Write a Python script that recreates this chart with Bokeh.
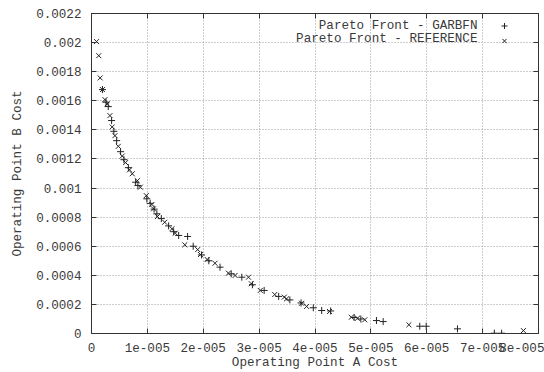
from bokeh.plotting import figure
from bokeh.models import (Range1d, FixedTicker, CustomJSTickFormatter, LinearAxis,
                          Legend, LegendItem, Label)
from bokeh.embed import file_html
from bokeh.resources import INLINE

FONT = "Liberation Mono"
TEXT = "#3a3a3a"
FS = "12.6px"

# ---- data (Operating Point A cost, Operating Point B cost) ----
garbfn_a = [0.196e-5, 0.26e-5, 0.30e-5, 0.36e-5, 0.40e-5, 0.45e-5, 0.52e-5, 0.58e-5,
            0.66e-5, 0.79e-5, 0.83e-5, 0.99e-5, 1.05e-5, 1.12e-5, 1.17e-5, 1.25e-5,
            1.38e-5, 1.47e-5, 1.56e-5, 1.72e-5, 1.82e-5, 1.97e-5, 2.10e-5, 2.30e-5,
            2.50e-5, 2.69e-5, 2.88e-5, 3.09e-5, 3.35e-5, 3.55e-5, 3.75e-5, 3.97e-5,
            4.12e-5, 4.28e-5, 4.70e-5, 4.82e-5, 5.10e-5, 5.22e-5, 5.875e-5, 5.99e-5,
            6.55e-5, 7.21e-5, 7.34e-5]
garbfn_b = [16.77e-4, 15.9e-4, 15.6e-4, 14.64e-4, 13.9e-4, 13.26e-4, 12.5e-4, 11.95e-4,
            11.4e-4, 10.4e-4, 10.17e-4, 9.26e-4, 8.95e-4, 8.55e-4, 8.23e-4, 7.9e-4,
            7.4e-4, 7.0e-4, 6.74e-4, 6.67e-4, 6.0e-4, 5.4e-4, 5.0e-4, 4.56e-4,
            4.1e-4, 3.87e-4, 3.35e-4, 2.96e-4, 2.55e-4, 2.31e-4, 2.1e-4, 1.77e-4,
            1.58e-4, 1.55e-4, 1.1e-4, 1.0e-4, 0.89e-4, 0.82e-4, 0.5e-4, 0.5e-4,
            0.32e-4, 0.02e-4, 0.02e-4]

ref_a = [0.09e-5, 0.13e-5, 0.155e-5, 0.196e-5, 0.24e-5, 0.28e-5, 0.33e-5, 0.37e-5,
         0.42e-5, 0.48e-5, 0.55e-5, 0.61e-5, 0.68e-5, 0.73e-5, 0.82e-5, 0.875e-5,
         0.98e-5, 1.08e-5, 1.11e-5, 1.18e-5, 1.31e-5, 1.44e-5, 1.50e-5, 1.67e-5,
         1.90e-5, 1.95e-5, 2.07e-5, 2.21e-5, 2.45e-5, 2.57e-5, 2.81e-5, 2.86e-5,
         3.02e-5, 3.28e-5, 3.45e-5, 3.49e-5, 3.76e-5, 3.85e-5, 4.26e-5, 4.65e-5,
         4.76e-5, 4.89e-5, 5.68e-5, 7.73e-5]
ref_b = [20.07e-4, 19.1e-4, 17.57e-4, 16.77e-4, 16.08e-4, 15.79e-4, 14.98e-4, 14.2e-4,
         13.6e-4, 12.87e-4, 12.2e-4, 11.75e-4, 11.25e-4, 10.98e-4, 10.5e-4, 10.06e-4,
         9.48e-4, 8.87e-4, 8.57e-4, 8.04e-4, 7.65e-4, 7.2e-4, 6.9e-4, 6.1e-4,
         5.77e-4, 5.43e-4, 5.09e-4, 4.83e-4, 4.15e-4, 3.99e-4, 3.87e-4, 3.42e-4,
         2.96e-4, 2.68e-4, 2.5e-4, 2.38e-4, 2.08e-4, 1.86e-4, 1.51e-4, 1.12e-4,
         1.05e-4, 0.94e-4, 0.6e-4, 0.2e-4]

series_names = ["Pareto Front - GARBFN", "Pareto Front - REFERENCE"]

x_ticks = [0, 1e-5, 2e-5, 3e-5, 4e-5, 5e-5, 6e-5, 7e-5, 8e-5]
x_tick_labels = ["0", "1e-005", "2e-005", "3e-005", "4e-005", "5e-005", "6e-005",
                 "7e-005", "8e-005"]
y_ticks = [0, 0.0002, 0.0004, 0.0006, 0.0008, 0.001, 0.0012, 0.0014, 0.0016,
           0.0018, 0.002, 0.0022]
y_tick_labels = ["0", "0.0002", "0.0004", "0.0006", "0.0008", "0.001", "0.0012",
                 "0.0014", "0.0016", "0.0018", "0.002", "0.0022"]

FMT = """
let best = 0; let bd = Infinity;
for (let i = 0; i < tv.length; i++) { const d = Math.abs(tv[i] - tick); if (d < bd) { bd = d; best = i; } }
return labels[best];
"""

p = figure(width=544, height=372, output_backend="svg", toolbar_location=None,
           x_range=Range1d(0, 8e-5), y_range=Range1d(0, 0.0022),
           min_border_left=91, min_border_right=6, min_border_top=13, min_border_bottom=39,
           x_axis_label="Operating Point A Cost", y_axis_label="Operating Point B Cost")
p.background_fill_color = "white"
p.border_fill_color = "white"
p.outline_line_color = "#333333"
p.outline_line_width = 1

for ax, ticks, labels in ((p.xaxis[0], x_ticks, x_tick_labels), (p.yaxis[0], y_ticks, y_tick_labels)):
    ax.ticker = FixedTicker(ticks=ticks)
    ax.formatter = CustomJSTickFormatter(args=dict(tv=ticks, labels=labels), code=FMT)
    ax.major_tick_in = 5
    ax.major_tick_out = 0
    ax.minor_tick_line_color = None
    ax.axis_line_color = "#333333"
    ax.major_tick_line_color = "#333333"
    ax.major_label_text_font = FONT
    ax.major_label_text_font_size = FS
    ax.major_label_text_color = TEXT
    ax.axis_label_text_font = FONT
    ax.axis_label_text_font_size = FS
    ax.axis_label_text_font_style = "normal"
    ax.axis_label_text_color = TEXT

p.xaxis[0].major_label_standoff = 9
p.xaxis[0].axis_label_standoff = 1
p.yaxis[0].major_label_standoff = 10
p.yaxis[0].axis_label_standoff = 8

# mirrored ticks (top / right)
for loc, ticks in (("above", x_ticks), ("right", y_ticks)):
    p.add_layout(LinearAxis(ticker=FixedTicker(ticks=ticks),
                            formatter=CustomJSTickFormatter(code="return '';"),
                            major_tick_in=5, major_tick_out=0, minor_tick_line_color=None,
                            axis_line_color=None, major_tick_line_color="#333333",
                            major_label_text_font_size="0px", major_label_standoff=0), loc)

for g, ticks in ((p.xgrid[0], x_ticks), (p.ygrid[0], y_ticks)):
    g.ticker = FixedTicker(ticks=ticks)
    g.grid_line_color = "#9a9a9a"
    g.grid_line_dash = "1 2"
    g.grid_line_width = 1

r_g = p.scatter(garbfn_a, garbfn_b, marker="cross", size=7, line_color="#222222", line_width=1)
r_r = p.scatter(ref_a, ref_b, marker="x", size=7, line_color="#222222", line_width=1)

# legend: text (right aligned) followed by the sample marker, gnuplot style
leg = Legend(items=[LegendItem(label=" ", renderers=[r_g]), LegendItem(label=" ", renderers=[r_r])],
             location=(405, 285), orientation="vertical", padding=0, margin=0, spacing=0,
             glyph_width=16, glyph_height=15, label_standoff=0, label_width=0, label_height=15,
             label_text_font_size="1px", border_line_color=None, background_fill_alpha=0)
p.add_layout(leg, "center")

for name, yv in zip(series_names, [0.0021175, 0.0020213]):
    p.add_layout(Label(x=6.908e-5, y=yv, text=name, text_align="right", text_baseline="middle",
                       text_font=FONT, text_font_size=FS, text_color=TEXT))

open("out.html", "w").write(file_html(p, INLINE))
